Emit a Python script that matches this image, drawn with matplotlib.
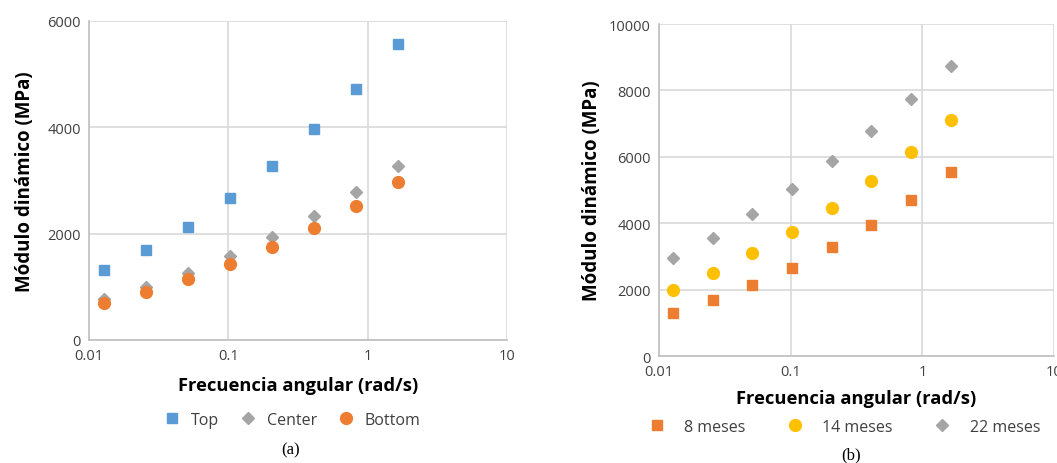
import matplotlib
matplotlib.use("Agg")
import matplotlib.pyplot as plt

# ---- data ----
freq = [0.0128, 0.0256, 0.0512, 0.102, 0.205, 0.41, 0.82, 1.64]
top = [1308, 1686, 2132, 2667, 3277, 3962, 4730, 5566]
center = [780, 994, 1258, 1572, 1937, 2327, 2780, 3270]
bottom = [704, 899, 1145, 1421, 1748, 2113, 2522, 2975]

m8 = [1294, 1675, 2136, 2658, 3270, 3942, 4714, 5547]
m14 = [1996, 2508, 3089, 3741, 4473, 5286, 6159, 7101]
m22 = [2939, 3561, 4263, 5035, 5878, 6770, 7743, 8736]

xticks = [0.01, 0.1, 1, 10]
xticklabels = ["0.01", "0.1", "1", "10"]
yticks_a = [0, 2000, 4000, 6000]
yticks_b = [0, 2000, 4000, 6000, 8000, 10000]

BLUE = "#5B9BD5"
GRAY = "#A5A5A5"
ORANGE = "#ED7D31"
YELLOW = "#FFC000"
GRID = "#D9D9D9"
TXT = "#404040"

plt.rcParams["font.family"] = ["Open Sans", "DejaVu Sans"]

fig = plt.figure(figsize=(10.57, 4.64), dpi=100)

def style(ax, yticks, ymax, xpad, ypad):
    ax.set_xscale("log")
    ax.set_xlim(0.01, 10)
    ax.set_ylim(0, ymax)
    ax.set_xticks(xticks)
    ax.set_xticklabels(xticklabels)
    ax.xaxis.set_minor_locator(matplotlib.ticker.NullLocator())
    ax.set_yticks(yticks)
    ax.set_yticklabels([str(v) for v in yticks])
    ax.grid(True, color=GRID, linewidth=1.2)
    ax.set_axisbelow(True)
    for s in ["top", "right"]:
        ax.spines[s].set_visible(False)
    for s in ["left", "bottom"]:
        ax.spines[s].set_color("#BFBFBF")
        ax.spines[s].set_linewidth(1.2)
    ax.tick_params(length=0, labelsize=10.5, labelcolor=TXT, pad=6)
    ax.set_xlabel("Frecuencia angular (rad/s)", fontsize=13.2, fontweight="bold",
                  color="black", labelpad=xpad)
    ax.set_ylabel("Módulo dinámico (MPa)", fontsize=13.5, fontweight="bold",
                  color="black", labelpad=ypad)

# ---- panel (a) ----
ax1 = fig.add_axes([0.0842, 0.2651, 0.3955, 0.6875])
style(ax1, yticks_a, 6000, 9, 9)
ax1.plot(freq, top, ls="none", marker="s", ms=7.5, color=BLUE, label="Top", clip_on=False)
ax1.plot(freq, center, ls="none", marker="D", ms=6, color=GRAY, label="Center", clip_on=False)
ax1.plot(freq, bottom, ls="none", marker="o", ms=8.5, color=ORANGE, label="Bottom", clip_on=False)
ax1.legend(loc="center", bbox_to_anchor=(0.486, -0.25), ncol=3, frameon=False,
           fontsize=11.5, handlelength=1.0, handletextpad=0.7, columnspacing=1.3,
           labelcolor=TXT)
fig.text(0.275, 0.030, "(a)", fontsize=12, family="Liberation Serif",
         ha="center", va="center")

# ---- panel (b) ----
ax2 = fig.add_axes([0.6235, 0.2306, 0.3737, 0.7155])
style(ax2, yticks_b, 10000, 7, 5)
ax2.plot(freq, m8, ls="none", marker="s", ms=7.5, color=ORANGE, label="8 meses", clip_on=False)
ax2.plot(freq, m14, ls="none", marker="o", ms=8.5, color=YELLOW, label="14 meses", clip_on=False)
ax2.plot(freq, m22, ls="none", marker="D", ms=6, color=GRAY, label="22 meses", clip_on=False)
ax2.legend(loc="center", bbox_to_anchor=(0.47, -0.214), ncol=3, frameon=False,
           fontsize=11.5, handlelength=1.0, handletextpad=1.2, columnspacing=2.6,
           labelcolor=TXT)
fig.text(0.805, 0.019, "(b)", fontsize=12, family="Liberation Serif",
         ha="center", va="center")

fig.savefig("out.png", dpi=100)
